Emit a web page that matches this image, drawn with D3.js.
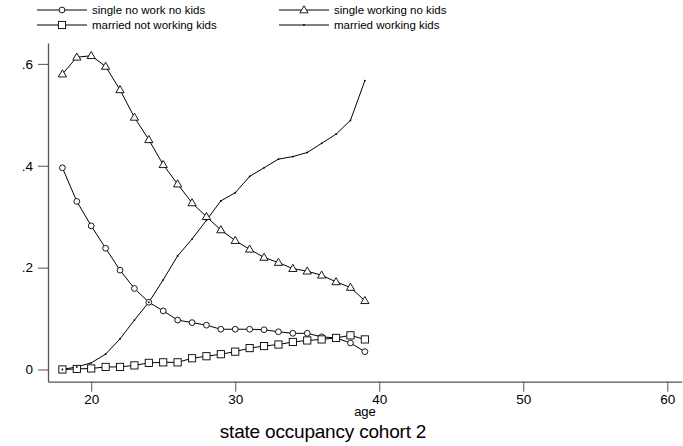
<!DOCTYPE html>
<html>
<head>
<meta charset="utf-8">
<script src="https://cdn.jsdelivr.net/npm/d3@7"></script>
<style>
  body { margin: 0; background: #fff; }
  svg { font-family: "Liberation Sans", Arial, sans-serif; }
  .axis path, .axis line { stroke: #555; }
  .series { fill: none; stroke: #000; stroke-width: 1; }
</style>
</head>
<body>
<svg id="svg" width="683" height="446"></svg>
<script>
// ages shared by every series
const ages = d3.range(18, 40);

// values
const singleNoWork = [0.396, 0.330, 0.282, 0.238, 0.195, 0.159, 0.132, 0.115, 0.097, 0.092, 0.087,
  0.079, 0.079, 0.079, 0.078, 0.074, 0.071, 0.071, 0.064, 0.062, 0.052, 0.035];
const singleWorking = [0.580, 0.613, 0.616, 0.595, 0.549, 0.495, 0.451, 0.402, 0.364, 0.327, 0.300,
  0.274, 0.253, 0.236, 0.220, 0.210, 0.198, 0.193, 0.185, 0.172, 0.161, 0.135];
const marriedNotWorking = [0.000, 0.001, 0.002, 0.005, 0.005, 0.008, 0.013, 0.014, 0.014, 0.022, 0.026,
  0.030, 0.035, 0.042, 0.046, 0.049, 0.054, 0.057, 0.059, 0.062, 0.067, 0.059];
const marriedWorking = [0.000, 0.005, 0.013, 0.030, 0.060, 0.097, 0.132, 0.176, 0.223, 0.256, 0.293,
  0.331, 0.347, 0.379, 0.396, 0.413, 0.418, 0.426, 0.444, 0.462, 0.489, 0.567];

const xTicks = [20, 30, 40, 50, 60];
const yTicks = [0, 0.2, 0.4, 0.6];
const yTickLabels = ["0", ".2", ".4", ".6"];

const seriesNames = ["single no work no kids", "single working no kids",
  "married not working kids", "married working kids"];

const series = [
  { name: seriesNames[0], values: singleNoWork, marker: "circle" },
  { name: seriesNames[1], values: singleWorking, marker: "triangle" },
  { name: seriesNames[2], values: marriedNotWorking, marker: "square" },
  { name: seriesNames[3], values: marriedWorking, marker: "dot" }
];

const svg = d3.select("svg#svg");

const x = d3.scaleLinear().domain([17, 61]).range([48, 681.7]);
const y = d3.scaleLinear().domain([-0.024, 0.641]).range([381.7, 43]);

// draws one marker of the given kind into g at (cx, cy)
var drawMarker = function(g, kind, cx, cy) {
  if (kind == "circle") {
    g.append("circle").attr("cx", cx).attr("cy", cy).attr("r", 2.9)
      .attr("fill", "#fff").attr("stroke", "#000").attr("stroke-width", 0.9);
  } else if (kind == "square") {
    g.append("rect").attr("x", cx - 3.6).attr("y", cy - 3.6)
      .attr("width", 7.2).attr("height", 7.2)
      .attr("fill", "#fff").attr("stroke", "#000").attr("stroke-width", 0.9);
  } else if (kind == "triangle") {
    let s = 8.2, h = s * Math.sqrt(3) / 2;
    let pts = [[cx, cy - h * 0.6], [cx - s / 2, cy + h * 0.4], [cx + s / 2, cy + h * 0.4]];
    g.append("polygon").attr("points", pts.map(p => p.join(",")).join(" "))
      .attr("fill", "#fff").attr("stroke", "#000").attr("stroke-width", 0.9);
  } else {
    g.append("circle").attr("cx", cx).attr("cy", cy).attr("r", 0.9).attr("fill", "#000");
  }
};

// axes
const xAxis = svg.append("g").attr("class", "axis")
  .attr("transform", "translate(0,381.7)")
  .call(d3.axisBottom(x).tickValues(xTicks).tickSize(10).tickPadding(3).tickSizeOuter(0));
xAxis.selectAll("text").attr("font-size", 13.5).attr("fill", "#000")
  .attr("font-family", "Liberation Sans, Arial, sans-serif");

const yAxis = svg.append("g").attr("class", "axis")
  .attr("transform", "translate(48,0)")
  .call(d3.axisLeft(y).tickValues(yTicks).tickFormat((d, i) => yTickLabels[i])
    .tickSize(10).tickPadding(5).tickSizeOuter(0));
yAxis.selectAll("text").attr("font-size", 13.5).attr("fill", "#000")
  .attr("font-family", "Liberation Sans, Arial, sans-serif");
svg.selectAll(".axis path.domain").attr("stroke-width", 1.3);

// series
const line = d3.line().x((d, i) => x(ages[i])).y(d => y(d));
series.forEach(function(s) {
  svg.append("path").attr("class", "series").attr("d", line(s.values));
});
series.forEach(function(s) {
  let g = svg.append("g");
  s.values.forEach((v, i) => drawMarker(g, s.marker, x(ages[i]), y(v)));
});

// legend
const legendPos = [[37, 10], [279, 10], [37, 25], [279, 25]];
series.forEach(function(s, i) {
  let lx = legendPos[i][0], ly = legendPos[i][1];
  let g = svg.append("g");
  g.append("line").attr("x1", lx).attr("x2", lx + 50).attr("y1", ly).attr("y2", ly)
    .attr("stroke", "#000").attr("stroke-width", 1);
  drawMarker(g, s.marker, lx + 25, ly);
  g.append("text").attr("x", lx + 55).attr("y", ly + 4.3)
    .attr("font-size", 11.5).text(s.name);
});

// titles
svg.append("text").attr("x", 365).attr("y", 415.5).attr("text-anchor", "middle")
  .attr("font-size", 13).text("age");
svg.append("text").attr("x", 323).attr("y", 437.7).attr("text-anchor", "middle")
  .attr("font-size", 19).attr("letter-spacing", -0.2).text("state occupancy cohort 2");
</script>
</body>
</html>
